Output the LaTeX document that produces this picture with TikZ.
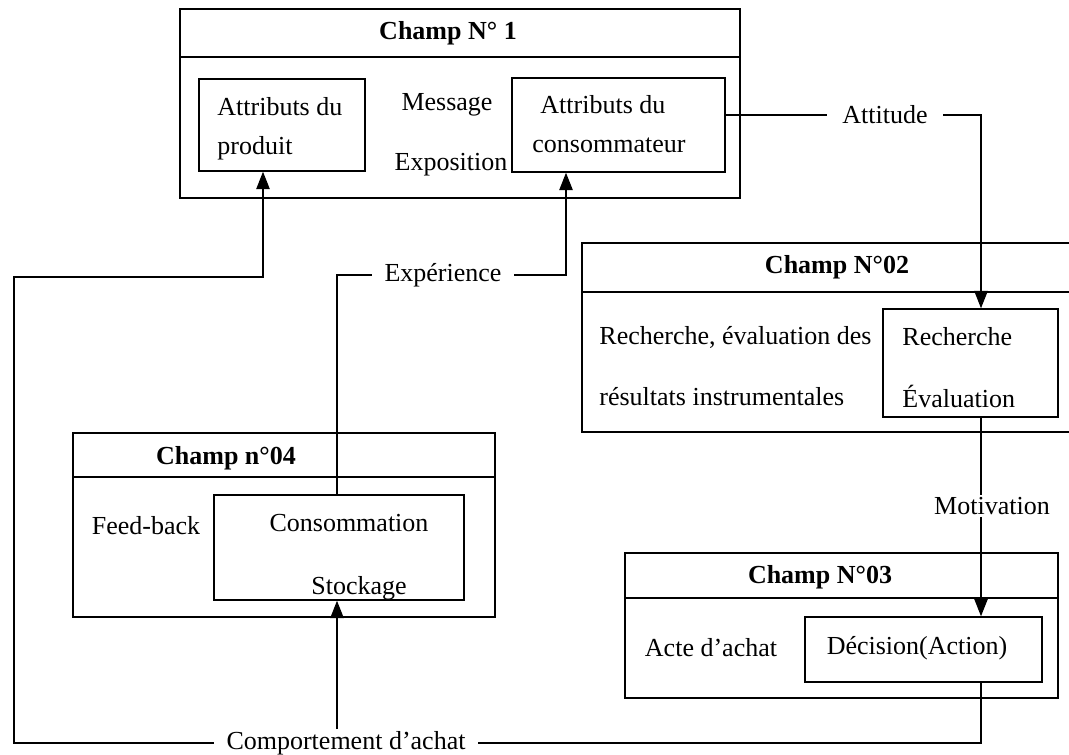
\documentclass[tikz,border=0pt]{standalone}
\usepackage{fontspec}
\setmainfont{Liberation Serif}
\usetikzlibrary{arrows.meta,fit}
\begin{document}
\begin{tikzpicture}[x=0.75pt,y=-0.75pt,
  line width=1.1pt,
  every node/.style={font=\fontsize{19.5}{23}\selectfont,inner sep=2pt},
  box/.style={draw,inner sep=0pt,fit={#1}},
  ttl/.style={font=\fontsize{19.5}{23}\selectfont\bfseries},
  txt/.style={},
  lbl/.style={inner xsep=9pt,inner ysep=1pt},
  arr/.style={-{Triangle[length=13pt,width=10pt]}}]
\clip (0,0) rectangle (1069,754);
\fill[white] (0,0) rectangle (1069,754);
% coordinates for connector columns
\coordinate (col) at (981,0);
\coordinate (pa) at (263,0);
\coordinate (ca) at (566,0);
\coordinate (ex4) at (337,0);
\coordinate (lft) at (14,277);

% Champ 1
\node[box={(180,9) (740,57)}] (c1t) {};
\node[box={(180,57) (740,198)}] (c1b) {};
\node[ttl] (t1) at (448,33) {Champ N° 1};
\node[box={(199,79) (365,171)}] (p1) {};
\node[txt,anchor=west] (p1a) at (214,107) {Attributs du};
\node[txt,anchor=west] (p1b) at (214,148) {produit};
\node[box={(512,78) (725,172)}] (cons) {};
\node[txt,anchor=west] (cna) at (537,105) {Attributs du};
\node[txt,anchor=west] (cnb) at (529,145) {consommateur};
\node[txt] (msg) at (447,105) {Message};
\node[txt] (expo) at (451,165) {Exposition};

% Champ 2
\node[box={(582,243) (1092,292)}] (c2t) {};
\node[box={(582,292) (1092,432)}] (c2b) {};
\node[ttl] (t2) at (c2t) {Champ N°02};
\node[box={(883,309) (1058,417)}] (rech) {};
\node[txt,anchor=west] (ra) at (899,337) {Recherche};
\node[txt,anchor=west] (rb) at (899,396) {Évaluation};
\node[txt,anchor=west] (la) at (596,337) {Recherche, évaluation des};
\node[txt,anchor=west] (lb) at (596,397) {résultats instrumentales};

% Champ 3
\node[box={(625,553) (1058,598)}] (c3t) {};
\node[box={(625,598) (1058,698)}] (c3b) {};
\node[ttl] (t3) at (820,577) {Champ N°03};
\node[box={(805,617) (1042,682)}] (dec) {};
\node[txt] (deca) at (917,648) {Décision(Action)};
\node[txt] (acte) at (711,648) {Acte d’achat};

% Champ 4
\node[box={(73,433) (495,477)}] (c4t) {};
\node[box={(73,477) (495,617)}] (c4b) {};
\node[ttl] (t4) at (226,458) {Champ n°04};
\node[box={(214,495) (464,600)}] (c4in) {};
\node[txt] (fb) at (146,526) {Feed-back};
\node[txt] (conso) at (349,523) {Consommation};
\begin{scope}
\clip (214,495) rectangle (464,600);
\node[txt] (stock) at (359,588) {Stockage};
\end{scope}

% labels on connectors
\node[lbl,inner xsep=11pt] (att) at (885,115) {Attitude};
\node[lbl] (exp) at (443,275) {Expérience};
\node[fill=white,inner sep=1pt] (mot) at (992,506) {Motivation};
\node[lbl] (comp) at (346,743) {Comportement d’achat};

% connectors
\draw (cons.east |- att) -- (att.west);
\draw[arr] (att.east) -| (rech.north -| col);
\draw (rech.south -| col) -- (mot.north -| col);
\draw[arr] (mot.south -| col) -- (dec.north -| col);
\draw (dec.south -| col) |- (comp.east);
\draw[arr] (comp.west) -| (lft) -| (p1.south -| pa);
\draw[arr] (comp.north -| ex4) -- (c4in.south -| ex4);
\draw (c4in.north -| ex4) |- (exp.west);
\draw[arr] (exp.east) -| (cons.south -| ca);
\end{tikzpicture}
\end{document}
